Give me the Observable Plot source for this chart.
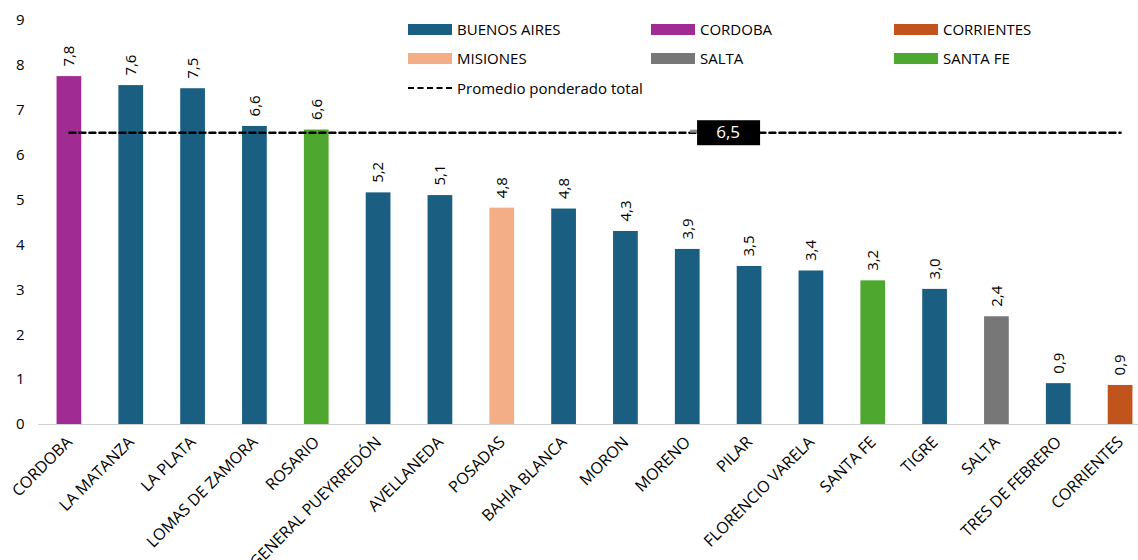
<!DOCTYPE html>
<html>
<head>
<meta charset="utf-8">
<script src="https://cdn.jsdelivr.net/npm/d3@7"></script>
<script src="https://cdn.jsdelivr.net/npm/@observablehq/plot@0.6"></script>
<style>
  html, body { margin: 0; padding: 0; background: #fff; }
  #wrap { position: relative; width: 1138px; height: 560px; font-family: "Open Sans", sans-serif; overflow: hidden; }
  #legend { position: absolute; left: 0; top: 0; }
  .item { position: absolute; font-size: 15px; color: #000; white-space: nowrap; display: flex; align-items: center; height: 18px; }
  .sw { width: 44px; height: 11px; margin-right: 5px; }
  .dash { width: 44px; height: 0; border-top: 2.5px dashed #000; margin-right: 5px; }
</style>
</head>
<body>
<div id="wrap"><div id="legend"></div></div>
<script>
const cities = ["CORDOBA","LA MATANZA","LA PLATA","LOMAS DE ZAMORA","ROSARIO","GENERAL PUEYRREDÓN","AVELLANEDA","POSADAS","BAHIA BLANCA","MORON","MORENO","PILAR","FLORENCIO VARELA","SANTA FE","TIGRE","SALTA","TRES DE FEBRERO","CORRIENTES"];
const provinces = ["CORDOBA","BUENOS AIRES","BUENOS AIRES","BUENOS AIRES","SANTA FE","BUENOS AIRES","BUENOS AIRES","MISIONES","BUENOS AIRES","BUENOS AIRES","BUENOS AIRES","BUENOS AIRES","BUENOS AIRES","SANTA FE","BUENOS AIRES","SALTA","BUENOS AIRES","CORRIENTES"];
const values = [7.75,7.55,7.48,6.64,6.56,5.16,5.1,4.82,4.8,4.3,3.9,3.52,3.42,3.2,3.01,2.4,0.91,0.87];
const valueLabels = ["7,8","7,6","7,5","6,6","6,6","5,2","5,1","4,8","4,8","4,3","3,9","3,5","3,4","3,2","3,0","2,4","0,9","0,9"];
const average = 6.5;
const averageLabel = "6,5";
const provinceNames = ["BUENOS AIRES","CORDOBA","CORRIENTES","MISIONES","SALTA","SANTA FE"];
const provinceColors = ["#1a5f82","#a02b93","#c0541c","#f3ad87","#777777","#4ea72e"];
const yTicks = [0,1,2,3,4,5,6,7,8,9];

const data = cities.map((c, i) => ({city: c, province: provinces[i], value: values[i], label: valueLabels[i]}));

const avgBox = (index, scales, values, dimensions, context) => {
  const bw = typeof scales.x.bandwidth === "function" ? scales.x.bandwidth() : scales.x.bandwidth;
  const x = scales.x("PILAR") + bw / 2 - 21;
  const y = scales.y(average);
  const g = d3.create("svg:g");
  g.append("rect").attr("x", x - 38).attr("y", y - 2.5).attr("width", 8).attr("height", 3).attr("fill", "#888");
  g.append("rect").attr("x", x - 31).attr("y", y - 12).attr("width", 63).attr("height", 25).attr("fill", "#000");
  g.append("text").attr("x", x).attr("y", y + 1).attr("text-anchor", "middle").attr("dominant-baseline", "middle")
    .attr("fill", "#fff").attr("font-size", 17).text(averageLabel);
  return g.node();
};

const chart = Plot.plot({
  width: 1138,
  height: 560,
  marginTop: 20,
  marginBottom: 136,
  marginLeft: 38,
  marginRight: 0,
  style: {fontFamily: "Open Sans, sans-serif", fontSize: "14px", color: "#000", overflow: "visible"},
  x: {type: "band", domain: cities, range: [38, 1151], paddingInner: 0.6, paddingOuter: 0.3, round: false, label: null},
  y: {domain: [0, 9], label: null},
  color: {domain: provinceNames, range: provinceColors},
  marks: [
    Plot.axisY({ticks: yTicks, tickSize: 0, tickPadding: 14, tickFormat: d => String(d), fontSize: 15}),
    Plot.axisX({tickSize: 0, tickPadding: 15, tickRotate: -45, fontSize: 16}),
    Plot.ruleY([0], {stroke: "#d0d0d0", strokeWidth: 1.2}),
    Plot.barY(data, {x: "city", y: "value", fill: "province"}),
    Plot.line(data, {x: "city", y: () => average, stroke: "#000", strokeWidth: 2.5, strokeDasharray: "6,4"}),
    Plot.text(data, {x: "city", y: "value", text: "label", rotate: -90, textAnchor: "start", dy: -10, fontSize: 15, fill: "#000"}),
    avgBox
  ]
});
document.getElementById("wrap").prepend(chart);
chart.style.position = "absolute";
chart.style.left = "0";
chart.style.top = "0";

const legend = document.getElementById("legend");
const legendPos = [[408,20],[651,20],[894,20],[408,49],[651,49],[894,49]];
provinceNames.forEach((p, i) => {
  const d = document.createElement("div");
  d.className = "item";
  d.style.left = legendPos[i][0] + "px";
  d.style.top = legendPos[i][1] + "px";
  d.innerHTML = `<span class="sw" style="background:${provinceColors[i]}"></span><span>${p}</span>`;
  legend.appendChild(d);
});
const da = document.createElement("div");
da.className = "item";
da.style.left = "408px"; da.style.top = "79px";
da.innerHTML = `<span class="dash"></span><span>Promedio ponderado total</span>`;
legend.appendChild(da);
</script>
</body>
</html>
